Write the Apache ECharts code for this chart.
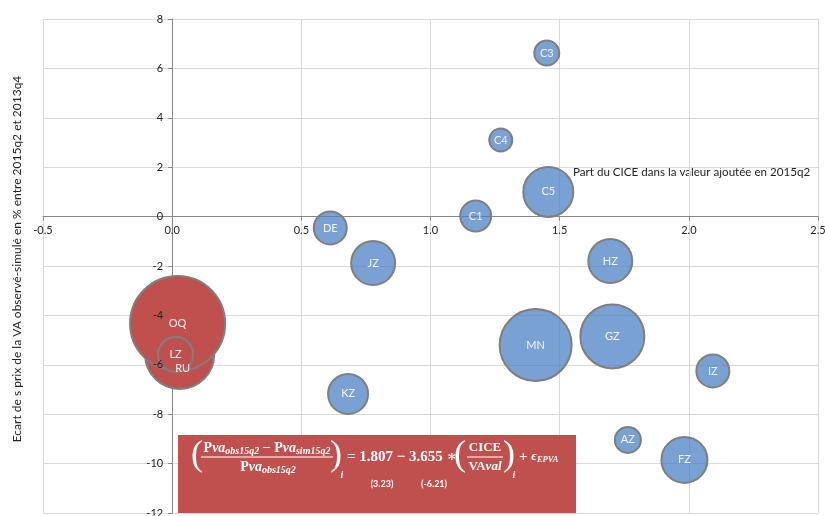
<!DOCTYPE html>
<html>
<head>
<meta charset="utf-8">
<script src="https://cdn.jsdelivr.net/npm/echarts@6/dist/echarts.min.js"></script>
<style>
  html, body { margin: 0; padding: 0; background: #fff; }
  #chart { width: 825px; height: 516px; }
</style>
</head>
<body>
<div id="chart"></div>
<script>
// secteurs (bulles bleues)
const secteurs = ['C3', 'C4', 'C5', 'C1', 'DE', 'JZ', 'HZ', 'MN', 'GZ', 'IZ', 'KZ', 'AZ', 'FZ'];
const partCICE = [1.450, 1.272, 1.456, 1.175, 0.612, 0.778, 1.696, 1.407, 1.704, 2.093, 0.681, 1.764, 1.983];
const ecartPrix = [6.62, 3.10, 1.00, 0.02, -0.46, -1.88, -1.80, -5.20, -4.85, -6.25, -7.18, -9.04, -9.85];
const taille = [1.56, 1.32, 6.25, 2.4, 2.72, 4.84, 4.84, 12.96, 10.24, 2.72, 4.0, 1.69, 5.29];

// secteurs hors champ (bulles rouges)
const secteursHors = ['RU', 'OQ', 'LZ'];
const partCICEHors = [0.029, 0.021, 0.013];
const ecartPrixHors = [-5.58, -4.33, -5.58];
const tailleHors = [11.9, 22.6, 3.06];

const xTicks = { min: -0.5, max: 2.5, interval: 0.5 };
const yTicks = { min: -12, max: 8, interval: 2 };

const bleu = secteurs.map((s, i) => [partCICE[i], ecartPrix[i], taille[i], s]);
const rouge = secteursHors.map((s, i) => [partCICEHors[i], ecartPrixHors[i], tailleHors[i], s]);

const bulle = (v) => 20 * Math.sqrt(v[2]);
const txtBlanc = '#ffffff';
const serif = '"Liberation Serif", "DejaVu Serif", serif';

// grille fixe : position des axes passant par zéro
const G = { left: 43, right: 7, top: 19, bottom: 3 };
const plotW = 825 - G.left - G.right;
const plotH = 516 - G.top - G.bottom;
const xZero = plotW * (0 - xTicks.min) / (xTicks.max - xTicks.min);
const yZero = plotH * (yTicks.max - 0) / (yTicks.max - yTicks.min);

// styles du texte de l'équation
const eq = (size, sub) => ({
  b: { fontSize: size, fontWeight: 'bold', fontFamily: serif, fill: txtBlanc },
  bi: { fontSize: size, fontWeight: 'bold', fontStyle: 'italic', fontFamily: serif, fill: txtBlanc },
  s: { fontSize: sub, fontWeight: 'bold', fontStyle: 'italic', fontFamily: serif, fill: txtBlanc, verticalAlign: 'bottom', padding: [6, 0, 0, 0] }
});

let chart = echarts.init(document.getElementById('chart'));
chart.setOption({
  animation: false,
  grid: { left: G.left, right: G.right, top: G.top, bottom: G.bottom, outerBoundsMode: 'none', containLabel: false },
  xAxis: [{
    type: 'value',
    min: xTicks.min, max: xTicks.max, interval: xTicks.interval,
    axisLine: { onZero: true, lineStyle: { color: '#868686', width: 1 } },
    axisTick: { show: true, length: 4, lineStyle: { color: '#868686' } },
    axisLabel: { show: false },
    splitLine: { show: true, lineStyle: { color: '#D9D9D9', width: 1 } }
  }, {
    // étiquettes seules, sur la ligne y = 0
    type: 'value',
    position: 'bottom',
    offset: -(plotH - yZero),
    z: 10,
    min: xTicks.min, max: xTicks.max, interval: xTicks.interval,
    axisLine: { show: false, onZero: false },
    axisTick: { show: false },
    axisLabel: { color: '#222', fontSize: 11, fontFamily: 'Lato', margin: 8, formatter: (v) => v.toFixed(1) },
    splitLine: { show: false }
  }],
  yAxis: [{
    type: 'value',
    min: yTicks.min, max: yTicks.max, interval: yTicks.interval,
    axisLine: { show: true, onZero: true, lineStyle: { color: '#868686', width: 1 } },
    axisTick: { show: true, length: 4, lineStyle: { color: '#868686' } },
    axisLabel: { show: false },
    splitLine: { show: true, lineStyle: { color: '#D9D9D9', width: 1 } }
  }, {
    // étiquettes seules, au-dessus des bulles
    type: 'value',
    position: 'left',
    offset: -xZero,
    z: 10,
    min: yTicks.min, max: yTicks.max, interval: yTicks.interval,
    axisLine: { show: false, onZero: false },
    axisTick: { show: false },
    axisLabel: { color: '#222', fontSize: 11, fontFamily: 'Lato', margin: 9 },
    splitLine: { show: false }
  }],
  series: [{
    name: 'secteurs',
    type: 'scatter',
    data: bleu,
    symbolSize: bulle,
    itemStyle: { color: 'rgba(75,128,195,0.74)', borderColor: '#7F7F7F', borderWidth: 2, opacity: 1 },
    label: { show: true, position: 'inside', formatter: (p) => p.data[3], color: '#F2F5FA', fontSize: 11, fontFamily: 'Lato' },
    emphasis: { disabled: true }
  }, {
    name: 'hors',
    type: 'scatter',
    data: rouge,
    symbolSize: bulle,
    itemStyle: { color: '#C0504D', borderColor: '#7F7F7F', borderWidth: 2, opacity: 1 },
    label: {
      show: true, position: 'inside', color: '#F6F0F0', fontSize: 11, fontFamily: 'Lato',
      formatter: (p) => p.data[3]
    },
    labelLayout: (p) => p.dataIndex === 0 ? { dy: 14, dx: 3 } : {},
    emphasis: { disabled: true }
  }],
  graphic: [
    {
      type: 'text', x: 17, y: 259, rotation: Math.PI / 2,
      style: { text: 'Ecart de s prix de la VA observé-simulé en % entre 2015q2 et 2013q4', fill: '#222', fontSize: 12, fontFamily: 'Lato', align: 'center', verticalAlign: 'middle' }
    },
    {
      type: 'text', x: 573, y: 172,
      style: { text: 'Part du CICE dans la valeur ajoutée en 2015q2', fill: '#222', fontSize: 11.6, fontFamily: 'Lato', align: 'left', verticalAlign: 'middle' }
    },
    // encadré de l'équation
    { type: 'rect', z: 20, shape: { x: 178, y: 435, width: 398, height: 78 }, style: { fill: '#C0504D' } },
    { type: 'text', z: 21, x: 197, y: 456, style: { text: '(', fill: txtBlanc, fontSize: 36, fontFamily: serif, align: 'center', verticalAlign: 'middle' } },
    {
      type: 'text', z: 21, x: 267, y: 448,
      style: { text: '{b|P}{bi|va}{s|obs15q2}{b| − P}{bi|va}{s|sim15q2}', fill: txtBlanc, align: 'center', verticalAlign: 'middle', rich: eq(14, 10) }
    },
    { type: 'line', z: 21, shape: { x1: 201, y1: 457, x2: 333, y2: 457 }, style: { stroke: txtBlanc, lineWidth: 1 } },
    {
      type: 'text', z: 21, x: 268, y: 467,
      style: { text: '{b|P}{bi|va}{s|obs15q2}', fill: txtBlanc, align: 'center', verticalAlign: 'middle', rich: eq(14, 10) }
    },
    { type: 'text', z: 21, x: 336, y: 456, style: { text: ')', fill: txtBlanc, fontSize: 36, fontFamily: serif, align: 'center', verticalAlign: 'middle' } },
    { type: 'text', z: 21, x: 342, y: 475, style: { text: 'i', fill: txtBlanc, fontSize: 10, fontWeight: 'bold', fontStyle: 'italic', fontFamily: serif, align: 'center', verticalAlign: 'middle' } },
    { type: 'text', z: 21, x: 347, y: 457, style: { text: '= 1.807 − 3.655 ∗', fill: txtBlanc, fontSize: 15, fontWeight: 'bold', fontFamily: serif, align: 'left', verticalAlign: 'middle' } },
    { type: 'text', z: 21, x: 460, y: 456, style: { text: '(', fill: txtBlanc, fontSize: 36, fontFamily: serif, align: 'center', verticalAlign: 'middle' } },
    { type: 'text', z: 21, x: 485, y: 448, style: { text: 'CICE', fill: txtBlanc, fontSize: 13, fontWeight: 'bold', fontFamily: serif, align: 'center', verticalAlign: 'middle' } },
    { type: 'line', z: 21, shape: { x1: 467, y1: 457, x2: 503, y2: 457 }, style: { stroke: txtBlanc, lineWidth: 1 } },
    {
      type: 'text', z: 21, x: 485, y: 467,
      style: { text: '{b|VA}{bi|val}', fill: txtBlanc, align: 'center', verticalAlign: 'middle', rich: eq(13, 10) }
    },
    { type: 'text', z: 21, x: 509, y: 456, style: { text: ')', fill: txtBlanc, fontSize: 36, fontFamily: serif, align: 'center', verticalAlign: 'middle' } },
    { type: 'text', z: 21, x: 514, y: 475, style: { text: 'i', fill: txtBlanc, fontSize: 10, fontWeight: 'bold', fontStyle: 'italic', fontFamily: serif, align: 'center', verticalAlign: 'middle' } },
    {
      type: 'text', z: 21, x: 519, y: 457,
      style: {
        text: '{b|+ }{bi|ϵ}{s|EPVA}', fill: txtBlanc, align: 'left', verticalAlign: 'middle',
        rich: Object.assign(eq(13, 8.5), { b: { fontSize: 15, fontWeight: 'bold', fontFamily: serif, fill: txtBlanc } })
      }
    },
    { type: 'text', z: 21, x: 382, y: 484, style: { text: '(3.23)', fill: txtBlanc, fontSize: 9, fontWeight: 'bold', fontFamily: 'Lato', align: 'center', verticalAlign: 'middle' } },
    { type: 'text', z: 21, x: 434, y: 484, style: { text: '(-6.21)', fill: txtBlanc, fontSize: 9, fontWeight: 'bold', fontFamily: 'Lato', align: 'center', verticalAlign: 'middle' } }
  ]
});
</script>
</body>
</html>
